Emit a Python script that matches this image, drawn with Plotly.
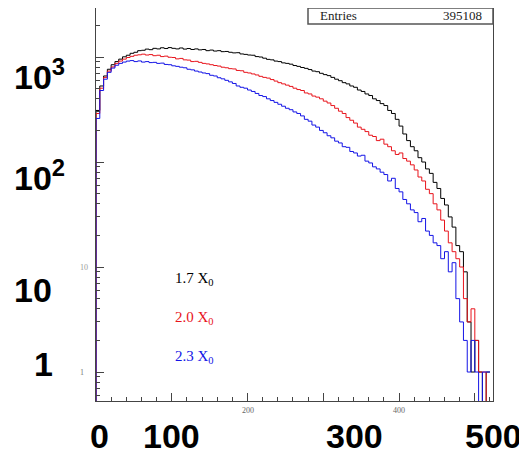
import numpy as np
import plotly.graph_objects as go

# histogramas (bins de 5 unidades, 0..520)
bin_width = 5
black_17 = [310, 530, 660, 765, 845, 905, 955, 1005, 1040, 1085, 1110, 1150, 1160, 1190, 1175, 1210,
            1195, 1225, 1205, 1230, 1210, 1195, 1220, 1190, 1205, 1180, 1195, 1170, 1180, 1150, 1165, 1140,
            1150, 1125, 1130, 1110, 1095, 1100, 1070, 1060, 1045, 1040, 1010, 1000, 975, 950, 940, 915,
            905, 880, 870, 855, 830, 815, 795, 780, 760, 735, 725, 700, 680, 665, 640, 615,
            595, 570, 555, 530, 515, 485, 470, 445, 430, 400, 385, 360, 345, 310, 290, 255,
            220, 185, 160, 140, 128, 110, 100, 86, 78, 64, 56, 45, 39, 30, 24, 16,
            14, 9, 3, 1, 2, 1, 0, 1]
red_20 = [290, 505, 640, 735, 805, 870, 915, 955, 990, 1015, 1040, 1050, 1065, 1045, 1055, 1030,
          1040, 1010, 1020, 995, 990, 960, 970, 940, 935, 905, 910, 890, 870, 860, 845, 830,
          820, 800, 790, 775, 770, 745, 740, 715, 705, 690, 675, 655, 640, 630, 610, 590,
          570, 555, 540, 525, 505, 490, 480, 455, 445, 425, 415, 400, 380, 365, 345, 325,
          305, 290, 265, 250, 235, 215, 205, 195, 180, 175, 160, 165, 148, 140, 128, 118,
          122, 108, 102, 94, 84, 72, 66, 55, 50, 40, 35, 28, 22, 17, 14, 12,
          10, 5, 3, 4, 2, 1, 1, 0]
blue_23 = [260, 480, 615, 715, 785, 835, 870, 895, 915, 925, 905, 918, 895, 905, 885, 890,
           870, 875, 850, 845, 825, 815, 800, 790, 765, 755, 735, 720, 705, 695, 670, 660,
           635, 620, 600, 580, 560, 530, 515, 505, 485, 470, 450, 430, 420, 400, 385, 370,
           355, 340, 325, 315, 300, 290, 275, 255, 245, 225, 215, 200, 190, 178, 170, 158,
           152, 140, 138, 126, 122, 114, 116, 102, 98, 90, 86, 80, 76, 66, 70, 56,
           52, 44, 40, 35, 33, 27, 29, 22, 20, 17, 16, 12, 14, 9, 11, 5,
           3, 2, 1, 2, 1, 0, 1, 1]

series_names = ["1.7 X<sub>0</sub>", "2.0 X<sub>0</sub>", "2.3 X<sub>0</sub>"]
series_colors = ["#000000", "#e8141c", "#1414e6"]
entries = "395108"

y_big = ["10<sup>3</sup>", "10<sup>2</sup>", "10", "1"]
x_big = ["0", "100", "300", "500"]

fig = go.Figure()

def step_xy(counts):
    c = np.array(counts, dtype=float)
    c = np.where(c > 0, c, 0.1)  # bins vacios -> fondo del eje log
    edges = np.arange(len(c) + 1) * bin_width
    xs = np.concatenate([[0], edges])
    ys = np.concatenate([[0.1], c, [c[-1]]])
    return xs, ys

for counts, name, col in zip([black_17, red_20, blue_23], series_names, series_colors):
    xs, ys = step_xy(counts)
    fig.add_trace(go.Scatter(x=xs, y=ys, mode="lines", line=dict(color=col, width=1, shape="hv"),
                             name=name, showlegend=False))

fig.update_xaxes(range=[0, 524], showgrid=False, zeroline=False, showline=True, mirror=True,
                 linecolor="#444", linewidth=1, ticks="inside", ticklen=8, tickcolor="#444",
                 dtick=100, tick0=0, showticklabels=False,
                 minor=dict(ticks="inside", ticklen=4, dtick=20, tickcolor="#444"))
fig.update_yaxes(type="log", range=[-0.276, 3.467], showgrid=False, zeroline=False,
                 showline=True, mirror=True, linecolor="#444", linewidth=1,
                 ticks="inside", ticklen=8, tickcolor="#444", dtick=1, showticklabels=False,
                 minor=dict(ticks="inside", ticklen=4, tickcolor="#444"))

ann = []
serif = "Liberation Serif"
mid = dict(showarrow=False, yanchor="middle")
# etiquetas pequenas originales
ann.append(dict(x=-0.045, y=0, xref="paper", yref="y", text="1",
                font=dict(family=serif, size=8, color="#777"), **mid))
ann.append(dict(x=-0.045, y=1, xref="paper", yref="y", text="10",
                font=dict(family=serif, size=8, color="#999"), **mid))
for v in [200, 400]:
    ann.append(dict(x=v, y=-0.024, xref="x", yref="paper", text=str(v),
                    font=dict(family=serif, size=8, color="#666"), **mid))

# caja de estadisticas
fig.add_shape(type="rect", xref="paper", yref="paper", x0=0.534, x1=1.0, y0=0.959, y1=1.0,
              line=dict(color="#555", width=1.5), fillcolor="white")
ann.append(dict(x=0.559, y=0.980, xref="paper", yref="paper", text="Entries",
                xanchor="left", font=dict(family=serif, size=13, color="#222"), **mid))
ann.append(dict(x=0.977, y=0.980, xref="paper", yref="paper", text=entries,
                xanchor="right", font=dict(family=serif, size=13, color="#222"), **mid))

# leyenda en texto
for name, col, yp in zip(series_names, series_colors, [0.310, 0.211, 0.112]):
    ann.append(dict(x=0.194, y=yp, xref="paper", yref="paper", text=name,
                    xanchor="left", font=dict(family=serif, size=15, color=col), **mid))

# etiquetas grandes superpuestas
big = dict(family="Liberation Sans", size=34, color="black", weight="bold")
for txt, yp in zip(y_big[:3], [0.832, 0.573, 0.282]):
    ann.append(dict(x=-0.2116, y=yp, xref="paper", yref="paper", text=txt,
                    xanchor="left", font=big, bgcolor="white", **mid))
ann.append(dict(x=-0.103, y=0.094, xref="paper", yref="paper", text=y_big[3],
                xanchor="right", font=big, bgcolor="white", **mid))
for txt, xv in zip(x_big, [0.010, 0.191, 0.652, 1.0]):
    ann.append(dict(x=xv, y=-0.089, xref="paper", yref="paper", text=txt,
                    xanchor="center", font=big, bgcolor="white", borderpad=4, **mid))

# la pagina tiene 8 px de margen en el body
fig.update_layout(width=519, height=450, margin=dict(l=88, r=34, t=0, b=57),
                  paper_bgcolor="white", plot_bgcolor="white", annotations=ann)

fig.write_html("out.html")
